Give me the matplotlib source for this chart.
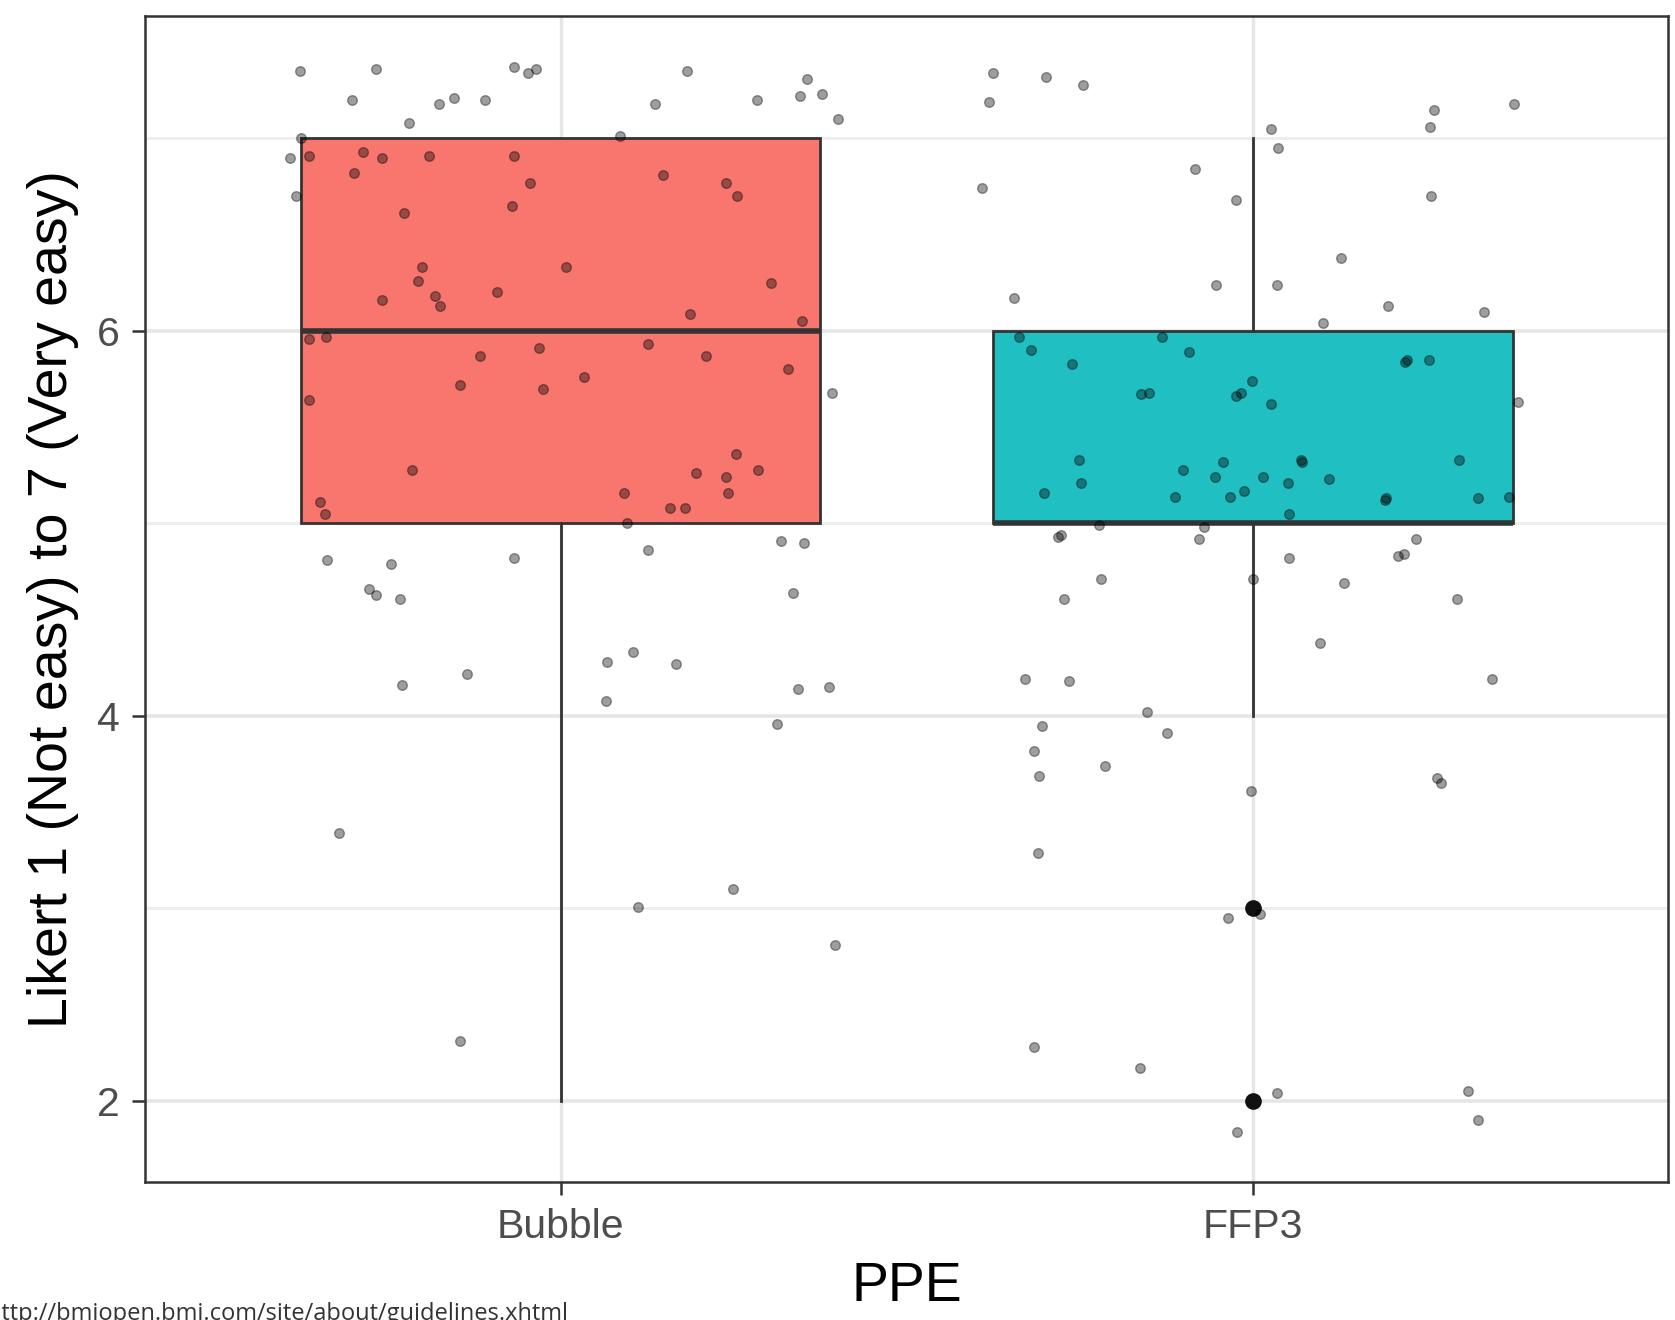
import numpy as np
import matplotlib
matplotlib.use("Agg")
import matplotlib.pyplot as plt
from matplotlib.ticker import FixedLocator

groups = ['Bubble', 'FFP3']
box_colors = ['#F8766D', '#1FBFC2']

# box statistics per group
q1 = [5, 5]
medians = [6, 5]
q3 = [7, 6]
whisker_lo = [2, 4]
whisker_hi = [7, 7]
outliers = [[], [3, 2]]

# jittered responses (x = jittered group position, y = jittered score)
bubble_x = [0.623, 0.733, 0.932, 0.952, 0.964, 0.698, 0.824, 0.846, 0.891, 0.781,
            1.183, 1.136, 1.283, 1.345, 1.355, 1.377, 1.400, 1.086, 0.625, 0.609,
            0.637, 0.714, 0.742, 0.810, 0.933, 0.702, 0.618, 0.956, 0.930, 0.773,
            1.148, 1.239, 1.254, 0.799, 0.794, 0.742, 0.819, 0.825, 0.908, 1.008,
            1.304, 1.186, 1.349, 0.636, 0.661, 0.968, 0.883, 1.126, 1.210, 1.328,
            0.855, 0.974, 1.034, 0.636, 1.392, 0.785, 0.652, 0.660, 1.092, 1.158,
            1.180, 1.196, 1.238, 1.253, 1.285, 1.242, 1.095, 0.662, 0.755, 0.932,
            1.126, 1.318, 1.352, 0.723, 0.733, 0.768, 1.335, 1.104, 1.067, 1.167,
            0.771, 0.865, 1.065, 1.343, 1.388, 1.312, 0.679, 0.854, 1.112, 1.249,
            1.396]
bubble_y = [7.35, 7.36, 7.37, 7.34, 7.36, 7.20, 7.18, 7.21, 7.20, 7.08,
            7.35, 7.18, 7.20, 7.22, 7.31, 7.23, 7.10, 7.01, 7.00, 6.90,
            6.91, 6.93, 6.90, 6.91, 6.91, 6.82, 6.70, 6.77, 6.65, 6.61,
            6.81, 6.77, 6.70, 6.33, 6.26, 6.16, 6.18, 6.13, 6.20, 6.33,
            6.25, 6.09, 6.05, 5.96, 5.97, 5.91, 5.87, 5.93, 5.87, 5.80,
            5.72, 5.70, 5.76, 5.64, 5.68, 5.28, 5.11, 5.05, 5.16, 5.08,
            5.08, 5.26, 5.24, 5.36, 5.28, 5.16, 5.00, 4.81, 4.79, 4.82,
            4.86, 4.91, 4.90, 4.66, 4.63, 4.61, 4.64, 4.33, 4.28, 4.27,
            4.16, 4.22, 4.08, 4.14, 4.15, 3.96, 3.39, 2.31, 3.01, 3.10,
            2.81]

ffp3_x = [1.625, 1.701, 1.755, 1.619, 2.262, 2.256, 2.377, 2.026, 2.036, 1.916,
          1.608, 1.976, 2.257, 2.127, 1.947, 2.034, 1.654, 2.195, 2.333, 2.101,
          1.662, 1.869, 1.679, 1.908, 1.738, 2.222, 2.220, 2.254, 1.999, 1.982,
          1.976, 1.838, 1.850, 2.026, 2.382, 1.748, 1.752, 1.698, 1.899, 1.956,
          1.945, 1.887, 1.966, 1.987, 2.015, 2.071, 2.069, 2.050, 2.052, 2.110,
          2.192, 2.190, 2.298, 2.325, 2.370, 1.777, 1.929, 1.718, 1.723, 1.922,
          2.236, 2.210, 2.218, 2.052, 1.781, 2.000, 1.727, 2.132, 2.294, 2.096,
          1.670, 1.734, 2.345, 1.847, 1.695, 1.875, 1.683, 1.786, 1.691, 2.266,
          2.271, 1.997, 1.689, 1.964, 2.010, 1.683, 1.837, 2.034, 1.977, 2.310,
          2.325]
ffp3_y = [7.34, 7.32, 7.28, 7.19, 7.15, 7.06, 7.18, 7.05, 6.95, 6.84,
          6.74, 6.68, 6.70, 6.38, 6.24, 6.24, 6.17, 6.13, 6.10, 6.04,
          5.97, 5.97, 5.90, 5.89, 5.83, 5.85, 5.84, 5.85, 5.74, 5.68,
          5.66, 5.67, 5.68, 5.62, 5.63, 5.33, 5.21, 5.16, 5.28, 5.32,
          5.24, 5.14, 5.14, 5.17, 5.24, 5.32, 5.33, 5.21, 5.05, 5.23,
          5.13, 5.12, 5.33, 5.13, 5.14, 4.99, 4.98, 4.93, 4.94, 4.92,
          4.92, 4.83, 4.84, 4.82, 4.71, 4.71, 4.61, 4.69, 4.61, 4.38,
          4.19, 4.18, 4.19, 4.02, 3.95, 3.91, 3.82, 3.74, 3.69, 3.68,
          3.65, 3.61, 3.29, 2.95, 2.97, 2.28, 2.17, 2.04, 1.84, 2.05,
          1.90]

plt.rcParams['font.family'] = ['Liberation Sans', 'DejaVu Sans']

fig = plt.figure(figsize=(16.75, 13.2), dpi=100)
ax = fig.add_axes([0.0868, 0.1042, 0.9093, 0.8837])

# grid like ggplot theme_bw
for yv in [2, 4, 6]:
    ax.axhline(yv, color='#E6E6E6', lw=2.6, zorder=0)
for yv in [3, 5, 7]:
    ax.axhline(yv, color='#EDEDED', lw=2.0, zorder=0)
for xv in [1, 2]:
    ax.axvline(xv, color='#E6E6E6', lw=2.4, zorder=0)

stats = []
for i in range(len(groups)):
    stats.append(dict(med=medians[i], q1=q1[i], q3=q3[i],
                      whislo=whisker_lo[i], whishi=whisker_hi[i],
                      fliers=outliers[i], label=groups[i]))

bp = ax.bxp(stats, positions=[1, 2], widths=0.75, patch_artist=True,
            showcaps=False,
            boxprops=dict(edgecolor='#333333', linewidth=2.0),
            whiskerprops=dict(color='#333333', linewidth=2.0),
            medianprops=dict(color='#333333', linewidth=4.0, solid_capstyle='butt'),
            flierprops=dict(marker='o', markerfacecolor='#111111',
                            markeredgecolor='#111111', markersize=11))
for patch, c in zip(bp['boxes'], box_colors):
    patch.set_facecolor(c)
    patch.set_zorder(2)

for xs, ys in [(bubble_x, bubble_y), (ffp3_x, ffp3_y)]:
    ax.scatter(xs, ys, s=48, facecolors='black', edgecolors='black',
               linewidths=1.0, alpha=0.38, zorder=4)

ax.set_xlim(0.4, 2.6)
ax.set_ylim(1.577, 7.636)
ax.yaxis.set_major_locator(FixedLocator([2, 4, 6]))
ax.set_xticks([1, 2])
ax.set_xticklabels(groups)

for sp in ax.spines.values():
    sp.set_color('#333333')
    sp.set_linewidth(1.8)

ax.tick_params(axis='both', length=9.4, width=1.8, color='#333333',
               labelsize=29.5, labelcolor='#4D4D4D')
ax.tick_params(axis='x', pad=9)
ax.tick_params(axis='y', pad=9)

fig.text(0.5415, 0.025, 'PPE', ha='center', va='center', fontsize=40)
fig.text(0.0317, 0.546, 'Likert 1 (Not easy) to 7 (Very easy)', ha='center',
         va='center', rotation=90, fontsize=40)

fig.text(-0.0075, 0.0135, 'http://bmjopen.bmj.com/site/about/guidelines.xhtml',
         ha='left', va='top', fontsize=17, color='#333333',
         family=['Open Sans', 'DejaVu Sans'])

fig.savefig('out.png', dpi=100)
